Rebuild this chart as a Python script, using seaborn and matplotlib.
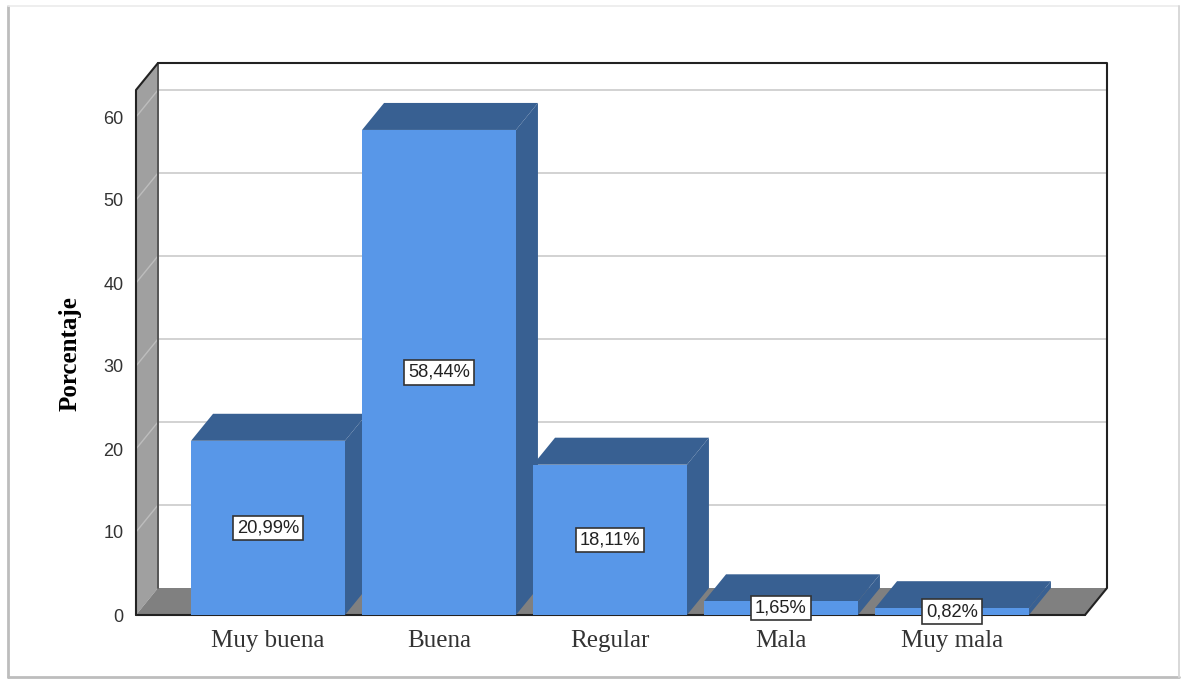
import matplotlib
matplotlib.use("Agg")
import matplotlib.pyplot as plt
from matplotlib.lines import Line2D
import pandas as pd
import seaborn as sns

# datos
categorias = ["Muy buena", "Buena", "Regular", "Mala", "Muy mala"]
porcentajes = [20.99, 58.44, 18.11, 1.65, 0.82]
etiquetas = ["20,99%", "58,44%", "18,11%", "1,65%", "0,82%"]
ticks_y = [0, 10, 20, 30, 40, 50, 60]

AZUL = "#5897E8"
AZUL_OSCURO = "#386092"
PARED = "#A0A0A0"
PISO = "#808080"

W, H = 1182, 679
sns.set_theme(style="white")
plt.rcParams["font.family"] = ["Liberation Sans", "DejaVu Sans"]

fig = plt.figure(figsize=(W / 100, H / 100), dpi=100, facecolor="white")
# eje en pixeles de la imagen: frente izq 136, fondo der 1107, base 615, techo 63
ax = fig.add_axes([136 / W, 1 - 615 / H, (1107 - 136) / W, (615 - 63) / H])

df = pd.DataFrame({"categoria": categorias, "porcentaje": porcentajes})
sns.barplot(data=df, x="categoria", y="porcentaje", color=AZUL, saturation=1,
            width=0.9, ax=ax, zorder=4, edgecolor=AZUL, linewidth=0)

# escala: 171 px por categoria, 8.3 px por unidad de porcentaje
x_min = -132 / 171
x_max = x_min + 971 / 171
y_max = 552 / 8.3
dx = 22 / 171   # profundidad 3D
dy = 27 / 8.3
ax.set_xlim(x_min, x_max)
ax.set_ylim(0, y_max)

# pared izquierda y piso
ax.fill([x_min, x_min + dx, x_min + dx, x_min], [0, dy, y_max, y_max - dy], color=PARED, lw=0, zorder=1)
ax.fill([x_min, x_min + dx, x_max, x_max - dx], [0, dy, dy, 0], color=PISO, lw=0, zorder=1)

# lineas de cuadricula
for v in ticks_y[1:]:
    ax.plot([x_min + dx, x_max], [v + dy, v + dy], color="#D2D2D2", lw=1.4, zorder=2)
    ax.plot([x_min, x_min + dx], [v, v + dy], color="#BDBDBD", lw=1, zorder=2)

# bordes
borde = dict(color="#222222", lw=1.5, zorder=3, solid_capstyle="round", clip_on=False)
ax.plot([x_min + dx, x_max, x_max, x_max - dx], [y_max, y_max, dy, 0], **borde)
ax.plot([x_min + dx, x_min, x_min], [y_max, y_max - dy, 0], **borde)
ax.plot([x_min, x_max - dx], [0, 0], **borde)
ax.plot([x_min + dx, x_min + dx], [dy, y_max], color="#555555", lw=1.4, zorder=2)

# caras superior y lateral de cada barra
for i, v in enumerate(porcentajes):
    izq, der = i - 0.45, i + 0.45
    ax.fill([izq, der, der + dx, izq + dx], [v, v, v + dy, v + dy], color=AZUL_OSCURO, lw=0, zorder=3.5)
    ax.fill([der, der + dx, der + dx, der], [0, dy, v + dy, v], color=AZUL_OSCURO, lw=0, zorder=3.5)

# etiquetas de valor
for i, (v, txt) in enumerate(zip(porcentajes, etiquetas)):
    ax.text(i, v / 2, txt, ha="center", va="center", fontsize=13.2, color="#222222", zorder=6,
            bbox=dict(boxstyle="square,pad=0.2", fc="white", ec="#333333", lw=1.2))

ax.set_yticks(ticks_y)
ax.set_yticklabels([str(t) for t in ticks_y], fontsize=13, color="#333333")
ax.set_xticks(range(len(categorias)))
ax.set_xticklabels(categorias, fontsize=18, family="Liberation Serif", color="#333333")
ax.tick_params(axis="y", length=0, pad=9)
ax.tick_params(axis="x", length=0, pad=11)
ax.set_xlabel("")
ax.set_ylabel("Porcentaje", fontsize=18, family="Liberation Serif", fontweight="bold", color="black")
ax.yaxis.set_label_coords(-0.056, 0.473)
sns.despine(ax=ax, left=True, bottom=True)

# marco de la imagen: arriba claro, izquierda y abajo mas oscuros
for xs, ys, col, grosor in [
    ([8, 8], [6, 677], "#BDBDBD", 2.0),
    ([8, 1179], [6, 6], "#EBEBEB", 1.2),
    ([8, 1179], [677, 677], "#BDBDBD", 2.0),
    ([1179, 1179], [6, 677], "#D8D8D8", 1.4),
]:
    fig.add_artist(Line2D([x / W for x in xs], [1 - y / H for y in ys], color=col, lw=grosor))

fig.savefig("out.png", dpi=100)
